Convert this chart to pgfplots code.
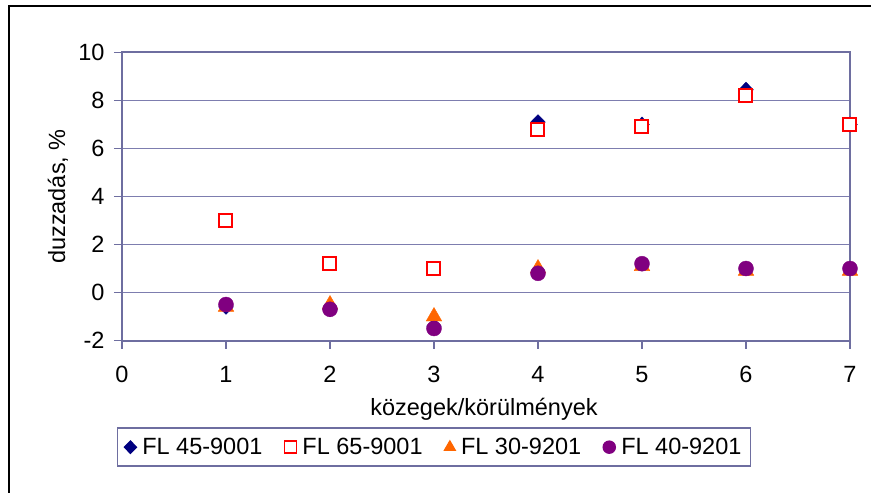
\documentclass[border=0pt]{standalone}
\usepackage{fontspec}
\setmainfont{Liberation Sans}
\usepackage{pgfplots}
\pgfplotsset{compat=1.18}
\definecolor{axiscol}{RGB}{110,110,160}
\definecolor{gridcol}{RGB}{125,125,175}
\definecolor{c1}{RGB}{0,0,128}
\definecolor{c2}{RGB}{255,0,0}
\definecolor{c3}{RGB}{255,102,0}
\definecolor{c4}{RGB}{128,0,128}
\begin{document}
\begin{tikzpicture}[x=1pt,y=1pt]
\path[use as bounding box] (-122,-152.5) rectangle (749,340.5);
\draw[black,line width=2pt] (-113,-153) -- (-113,334.5) -- (750,334.5);
\begin{axis}[
  at={(0,0)}, anchor=south west,
  scale only axis, width=728pt, height=288pt,
  xmin=0, xmax=7, ymin=-2, ymax=10,
  xtick={0,1,2,3,4,5,6,7},
  ytick={-2,0,2,4,6,8,10},
  xtick pos=bottom, ytick pos=left,
  tick align=outside,
  major tick length=8pt,
  every tick/.style={axiscol,line width=1.3pt},
  axis line style={axiscol,line width=2pt},
  ymajorgrids,
  major grid style={gridcol,line width=1pt},
  /pgf/number format/assume math mode=true,
  ticklabel style={font=\fontsize{23.5}{28}\selectfont},
  xticklabel style={yshift=-14pt},
  yticklabel style={xshift=-6pt},
  clip=false,
  legend columns=4,
  legend image code/.code={\draw[#1, mark size=6pt, line width=1.5pt] plot coordinates {(0pt,0pt)};},
  legend style={at={(0.4286,-0.302)}, anchor=north, draw=axiscol, line width=1.5pt,
    font=\fontsize{23.5}{28}\selectfont, inner xsep=7pt, inner ysep=8pt,
    /tikz/every odd column/.append style={column sep=4pt},
    /tikz/every even column/.append style={column sep=20pt}},
]
\addplot[only marks, mark=diamond*, mark size=7.5pt, color=c1, mark options={xscale=1.3}]
 coordinates {(1,-0.6)(2,-0.7)(3,-1.4)(4,7.1)(5,7.0)(6,8.45)(7,7.0)};
\addlegendentry{FL 45-9001}
\addplot[only marks, mark=square*, mark size=6.5pt, color=c2, line width=2pt, fill=white]
 coordinates {(1,3.0)(2,1.2)(3,1.0)(4,6.8)(5,6.9)(6,8.2)(7,7.0)};
\addlegendentry{FL 65-9001}
\addplot[only marks, mark=triangle*, mark size=9pt, color=c3]
 coordinates {(1,-0.6)(2,-0.5)(3,-1.0)(4,1.0)(5,1.1)(6,0.9)(7,0.9)};
\addlegendentry{FL 30-9201}
\addplot[only marks, mark=*, mark size=7.5pt, color=c4]
 coordinates {(1,-0.5)(2,-0.7)(3,-1.5)(4,0.8)(5,1.2)(6,1.0)(7,1.0)};
\addlegendentry{FL 40-9201}
\end{axis}
\node[anchor=base, font=\fontsize{23.5}{28}\selectfont] at (362,-74.5) {közegek/körülmények};
\node[rotate=90, anchor=center, font=\fontsize{23.5}{28}\selectfont] at (-64,144) {duzzadás, \%};
\end{tikzpicture}
\end{document}
